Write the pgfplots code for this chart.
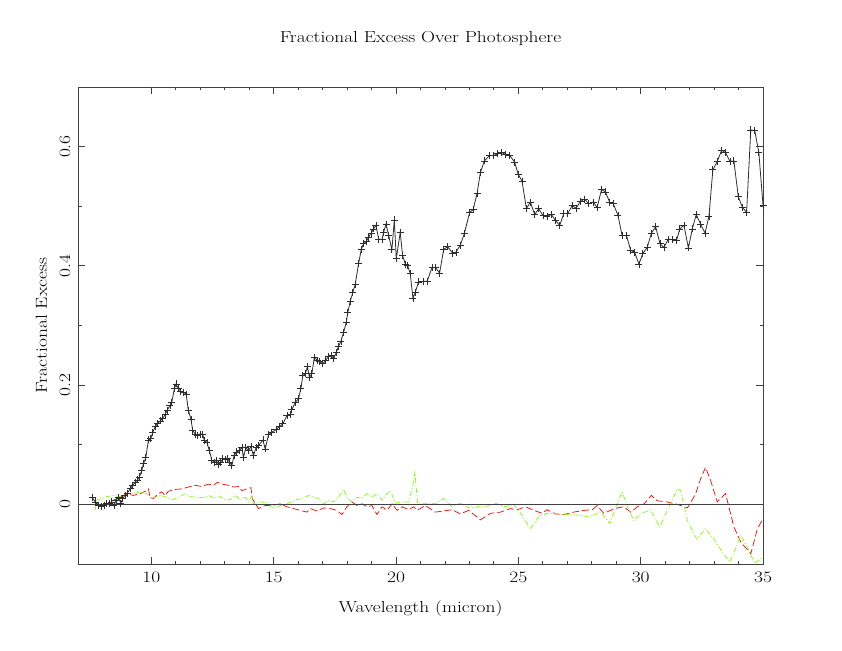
\documentclass[border=0pt]{standalone}
\usepackage{fontspec}
\setmainfont{Latin Modern Roman}[FakeStretch=1.22]
\usepackage{pgfplots}
\pgfplotsset{compat=1.18}
\definecolor{pgred}{rgb}{1,0,0}
\definecolor{pggreen}{rgb}{0.5,1,0}
\definecolor{axgray}{rgb}{0.25,0.25,0.25}
\newcommand{\lblfont}{\fontsize{16}{19}\selectfont}
\pgfplotsset{every axis title shift/.style={}}

\begin{document}
\begin{tikzpicture}
\path[use as bounding box] (-78bp,-87bp) rectangle (764bp,564bp);
\begin{axis}[
  scale only axis,
  width=685bp, height=477bp,
  xmin=7, xmax=35, ymin=-0.1, ymax=0.7,
  xtick={10,15,20,25,30,35}, ytick={0,0.2,0.4,0.6},
  minor x tick num=4, minor y tick num=1,
  tick align=inside,
  major tick length=7bp, minor tick length=3.5bp,
  axis line style={axgray, line width=0.8bp},
  every tick/.style={axgray, line width=0.8bp},
  /pgf/number format/assume math mode=true,
  ticklabel style={font=\lblfont},
  xticklabel style={yshift=-4bp},
  % rotated labels: yshift moves them to the left
  yticklabel style={rotate=90, anchor=south, yshift=4bp},
  yticklabel={\pgfmathprintnumber[fixed]{\tick}},
  title={Fractional Excess Over Photosphere},
  title style={font=\lblfont, at={(axis description cs:0.5,1.0817)}, anchor=base},
  xlabel={Wavelength (micron)},
  xlabel style={font=\lblfont, at={(axis description cs:0.5,-0.102)}, anchor=base},
  ylabel={Fractional Excess},
  ylabel style={font=\lblfont, at={(axis description cs:-0.0453,0.5)}, anchor=base},
]
% red excess
\addplot[pgred, line width=0.7bp, dash pattern=on 7bp off 3bp] coordinates {
(7.70,0.004) (7.97,-0.004) (8.17,0.001) (8.45,0.007) (8.72,0.012) (8.99,0.018)
(9.26,0.015) (9.54,0.018) (9.81,0.023) (9.88,0.026) (9.95,0.011) (10.08,0.010)
(10.29,0.018) (10.42,0.021) (10.56,0.015) (10.69,0.022) (10.97,0.025) (11.24,0.026)
(11.51,0.029) (11.79,0.032) (12.06,0.030) (12.33,0.034) (12.54,0.032) (12.70,0.037)
(12.88,0.034) (13.15,0.032) (13.36,0.029) (13.56,0.030) (13.70,0.023) (13.90,0.026)
(14.07,0.028) (14.12,0.010) (14.38,-0.007) (14.65,-0.002) (14.93,-0.002) (15.27,0.001)
(15.54,-0.004) (15.81,-0.007) (16.08,-0.010) (16.36,-0.013) (16.49,-0.007) (16.77,-0.011)
(17.04,-0.006) (17.31,-0.007) (17.58,-0.010) (17.79,-0.017) (17.99,-0.004) (18.20,0.004)
(18.40,-0.002) (18.61,0.001) (18.81,-0.004) (19.02,-0.002) (19.22,-0.017) (19.43,-0.004)
(19.63,-0.010) (19.84,0.001) (20.04,-0.010) (20.25,-0.004) (20.52,-0.009) (20.72,-0.004)
(20.86,-0.010) (21.20,-0.002) (21.61,-0.013) (21.95,-0.011) (22.29,-0.009) (22.63,-0.016)
(22.97,-0.010) (23.45,-0.026) (23.86,-0.015) (24.27,-0.013) (24.68,-0.007) (24.95,-0.009)
(25.29,-0.004) (25.63,-0.010) (25.97,-0.015) (26.17,-0.009) (26.52,-0.016) (26.86,-0.017)
(27.26,-0.013) (27.67,-0.010) (28.02,-0.009) (28.22,-0.002) (28.49,-0.015) (28.77,-0.010)
(29.04,-0.006) (29.31,-0.004) (29.59,-0.013) (29.86,-0.004) (30.14,0.001) (30.44,0.015)
(30.68,0.006) (31.09,0.004) (31.50,0.000) (31.91,-0.006) (32.25,0.018) (32.45,0.043)
(32.65,0.062) (32.86,0.040) (33.13,0.004) (33.47,0.018) (33.81,-0.038) (34.09,-0.063)
(34.50,-0.083) (34.77,-0.041) (35.00,-0.024)
};
% green excess
\addplot[pggreen, line width=0.7bp, dash pattern=on 5bp off 2bp on 1bp off 2bp] coordinates {
(7.70,-0.010) (7.76,0.007) (8.17,0.013) (8.45,0.015) (8.72,0.013) (8.99,0.018)
(9.26,0.018) (9.54,0.021) (9.81,0.018) (9.95,0.012) (10.08,0.011) (10.36,0.015)
(10.63,0.012) (10.90,0.008) (11.17,0.013) (11.38,0.018) (11.58,0.013) (11.85,0.012)
(12.13,0.011) (12.33,0.015) (12.54,0.011) (12.81,0.013) (13.01,0.007) (13.22,0.008)
(13.42,0.015) (13.63,0.008) (13.83,0.012) (13.97,0.004) (14.11,0.015) (14.17,0.001)
(14.45,0.004) (14.72,0.003) (14.99,-0.007) (15.27,-0.002) (15.54,0.001) (15.95,0.008)
(16.22,0.011) (16.42,0.015) (16.63,0.012) (16.83,0.010) (17.04,0.001) (17.24,0.007)
(17.45,0.004) (17.65,0.012) (17.86,0.025) (17.99,0.012) (18.20,0.004) (18.40,0.012)
(18.61,0.010) (18.81,0.018) (19.02,0.012) (19.22,0.018) (19.43,0.007) (19.63,0.018)
(19.77,0.023) (19.97,0.002) (20.17,0.004) (20.52,0.004) (20.69,0.032) (20.77,0.054)
(20.88,0.002) (21.27,0.002) (21.61,0.001) (21.95,0.010) (22.29,-0.004) (22.63,0.002)
(22.97,-0.006) (23.31,-0.004) (23.65,-0.004) (24.06,0.002) (24.47,-0.004) (24.81,0.000)
(25.15,-0.018) (25.49,-0.041) (25.83,-0.021) (26.17,-0.015) (26.65,-0.016) (27.06,-0.017)
(27.47,-0.018) (27.88,-0.021) (28.36,-0.013) (28.74,-0.032) (29.04,0.001) (29.24,0.021)
(29.52,-0.010) (29.72,-0.027) (30.00,-0.016) (30.40,-0.009) (30.78,-0.038) (31.09,-0.010)
(31.50,0.026) (31.63,0.023) (31.91,-0.027) (32.29,-0.058) (32.65,-0.041) (32.99,-0.058)
(33.34,-0.080) (33.65,-0.097) (34.09,-0.052) (34.36,-0.072) (34.66,-0.099) (35.00,-0.088)
};
% zero line
\addplot[axgray, line width=0.8bp] coordinates {(7,0) (35,0)};
% fractional excess
\addplot[axgray!70!black, line width=0.8bp, mark=+, mark size=3.5bp,
  mark options={solid, line width=0.8bp}] coordinates {
(7.58,0.012) (7.70,0.004) (7.83,-0.002) (7.97,-0.004) (8.06,-0.002) (8.17,0.001)
(8.28,0.002) (8.38,0.004) (8.47,-0.002) (8.55,0.006) (8.65,0.012) (8.75,0.002)
(8.83,0.010) (8.92,0.015) (9.02,0.019) (9.13,0.026) (9.24,0.032) (9.33,0.037)
(9.43,0.041) (9.51,0.046) (9.61,0.057) (9.67,0.068) (9.77,0.078) (9.88,0.108)
(9.97,0.110) (10.06,0.121) (10.15,0.130) (10.26,0.136) (10.36,0.140) (10.47,0.144)
(10.56,0.151) (10.65,0.158) (10.76,0.166) (10.83,0.171) (10.94,0.194) (11.01,0.202)
(11.10,0.194) (11.20,0.190) (11.31,0.188) (11.42,0.185) (11.51,0.158) (11.62,0.142)
(11.69,0.124) (11.79,0.118) (11.88,0.116) (11.99,0.118) (12.09,0.118) (12.17,0.107)
(12.27,0.104) (12.37,0.090) (12.47,0.074) (12.56,0.071) (12.65,0.074) (12.74,0.067)
(12.84,0.071) (12.92,0.077) (13.01,0.075) (13.11,0.077) (13.19,0.071) (13.29,0.065)
(13.38,0.082) (13.49,0.088) (13.60,0.090) (13.70,0.096) (13.76,0.078) (13.86,0.095)
(13.97,0.090) (14.07,0.097) (14.17,0.082) (14.28,0.095) (14.38,0.099) (14.56,0.108)
(14.65,0.093) (14.79,0.117) (14.92,0.121) (15.09,0.125) (15.24,0.131) (15.37,0.135)
(15.54,0.149) (15.67,0.151) (15.74,0.159) (15.88,0.171) (16.01,0.177) (16.11,0.194)
(16.19,0.216) (16.29,0.219) (16.38,0.231) (16.46,0.213) (16.56,0.219) (16.66,0.247)
(16.77,0.242) (16.87,0.239) (17.01,0.236) (17.11,0.241) (17.24,0.248) (17.35,0.250)
(17.45,0.244) (17.56,0.255) (17.65,0.265) (17.75,0.274) (17.86,0.289) (17.97,0.306)
(18.03,0.322) (18.13,0.341) (18.23,0.355) (18.33,0.369) (18.47,0.404) (18.58,0.428)
(18.67,0.437) (18.78,0.441) (18.88,0.448) (18.98,0.455) (19.08,0.462) (19.18,0.468)
(19.29,0.445) (19.43,0.444) (19.49,0.456) (19.59,0.470) (19.70,0.451) (19.83,0.427)
(19.93,0.477) (20.01,0.412) (20.17,0.456) (20.27,0.417) (20.38,0.403) (20.47,0.401)
(20.58,0.387) (20.69,0.346) (20.79,0.356) (20.92,0.373) (21.10,0.374) (21.27,0.374)
(21.47,0.397) (21.61,0.397) (21.78,0.388) (21.95,0.428) (22.11,0.432) (22.32,0.421)
(22.45,0.423) (22.63,0.435) (22.79,0.454) (23.01,0.490) (23.15,0.494) (23.31,0.521)
(23.45,0.557) (23.61,0.576) (23.82,0.585) (23.99,0.585) (24.16,0.588) (24.32,0.590)
(24.48,0.587) (24.65,0.585) (24.85,0.574) (24.99,0.554) (25.15,0.542) (25.33,0.496)
(25.49,0.507) (25.67,0.486) (25.83,0.496) (26.01,0.484) (26.17,0.483) (26.35,0.486)
(26.52,0.476) (26.69,0.468) (26.86,0.488) (27.02,0.488) (27.20,0.501) (27.36,0.497)
(27.54,0.508) (27.70,0.512) (27.88,0.504) (28.06,0.507) (28.22,0.498) (28.40,0.528)
(28.56,0.524) (28.73,0.507) (28.88,0.504) (29.07,0.485) (29.24,0.451) (29.42,0.451)
(29.59,0.426) (29.75,0.423) (29.93,0.403) (30.09,0.421) (30.27,0.431) (30.43,0.454)
(30.61,0.466) (30.79,0.437) (30.95,0.431) (31.13,0.445) (31.29,0.444) (31.46,0.442)
(31.60,0.462) (31.77,0.468) (31.95,0.430) (32.11,0.462) (32.27,0.486) (32.45,0.470)
(32.63,0.455) (32.79,0.483) (32.95,0.561) (33.13,0.575) (33.31,0.594) (33.47,0.590)
(33.65,0.575) (33.81,0.576) (33.99,0.516) (34.16,0.498) (34.33,0.490) (34.50,0.628)
(34.66,0.627) (34.83,0.590) (35.00,0.502)
};
\end{axis}
\end{tikzpicture}
\end{document}
